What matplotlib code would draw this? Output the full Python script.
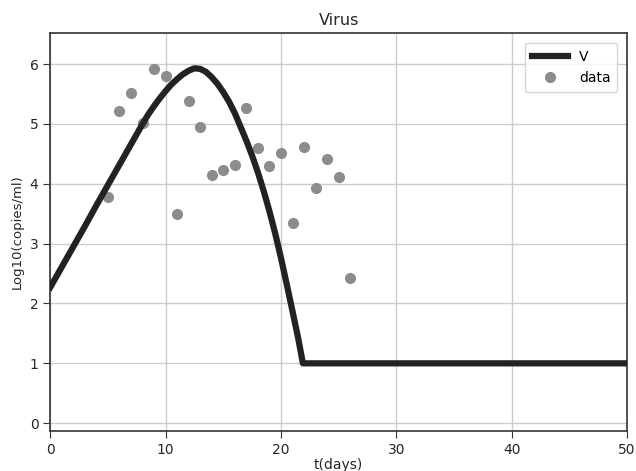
import numpy as np
import matplotlib.pyplot as plt

# model curve V
t_model = [0, 1, 2, 3, 4, 5, 6, 7, 8, 8.5, 9, 9.5, 10, 10.5, 11, 11.5, 12, 12.5,
           13, 13.5, 14, 14.5, 15, 15.5, 16, 16.5, 17, 17.5, 18, 18.5, 19, 19.5,
           20, 20.5, 21, 21.5, 21.9, 50]
v_model = [2.27, 2.61, 2.95, 3.29, 3.64, 3.98, 4.32, 4.66, 5.00, 5.16, 5.30, 5.43,
           5.55, 5.66, 5.75, 5.83, 5.89, 5.93, 5.92, 5.87, 5.78, 5.67, 5.53, 5.37,
           5.18, 4.95, 4.72, 4.47, 4.19, 3.88, 3.54, 3.17, 2.76, 2.32, 1.87, 1.41,
           1.00, 1.00]

# measured data
t_data = [5, 6, 7, 8, 9, 10, 11, 12, 13, 14, 15, 16, 17, 18, 19, 20, 21, 22, 23, 24, 25, 26]
v_data = [3.78, 5.22, 5.52, 5.02, 5.92, 5.80, 3.49, 5.38, 4.95, 4.15, 4.23, 4.31,
          5.27, 4.60, 4.30, 4.52, 3.34, 4.62, 3.93, 4.41, 4.11, 2.42]

fig = plt.figure(figsize=(6.36, 4.71), dpi=100)
plt.plot(t_model, v_model, color='#222222', lw=4.5, label='V', zorder=3,
         solid_joinstyle='round')
plt.plot(t_data, v_data, 'o', color='#8c8c8c', ms=7, label='data', zorder=2)

plt.xlabel('t(days)', fontsize=10, color='#262626', labelpad=1)
plt.ylabel('Log10(copies/ml)', fontsize=9.5, color='#262626')
plt.title('Virus', fontsize=11.5, color='#262626')
plt.axis([0, 50, -0.13, 6.52])
plt.xticks([0, 10, 20, 30, 40, 50])
plt.yticks([0, 1, 2, 3, 4, 5, 6])
plt.grid(color='#cccccc', lw=1)

ax = plt.gca()
ax.set_axisbelow(True)
for s in ax.spines.values():
    s.set_color('#333333')
    s.set_linewidth(1.2)
ax.tick_params(direction='out', length=5, color='#333333', labelsize=10,
               labelcolor='#262626')
ax.legend(loc='upper right', fontsize=10, framealpha=0.8, edgecolor='#cccccc',
          borderpad=0.5, handlelength=2.6, borderaxespad=0.7)

plt.subplots_adjust(left=0.079, right=0.986, top=0.93, bottom=0.085)
plt.savefig('out.png')
